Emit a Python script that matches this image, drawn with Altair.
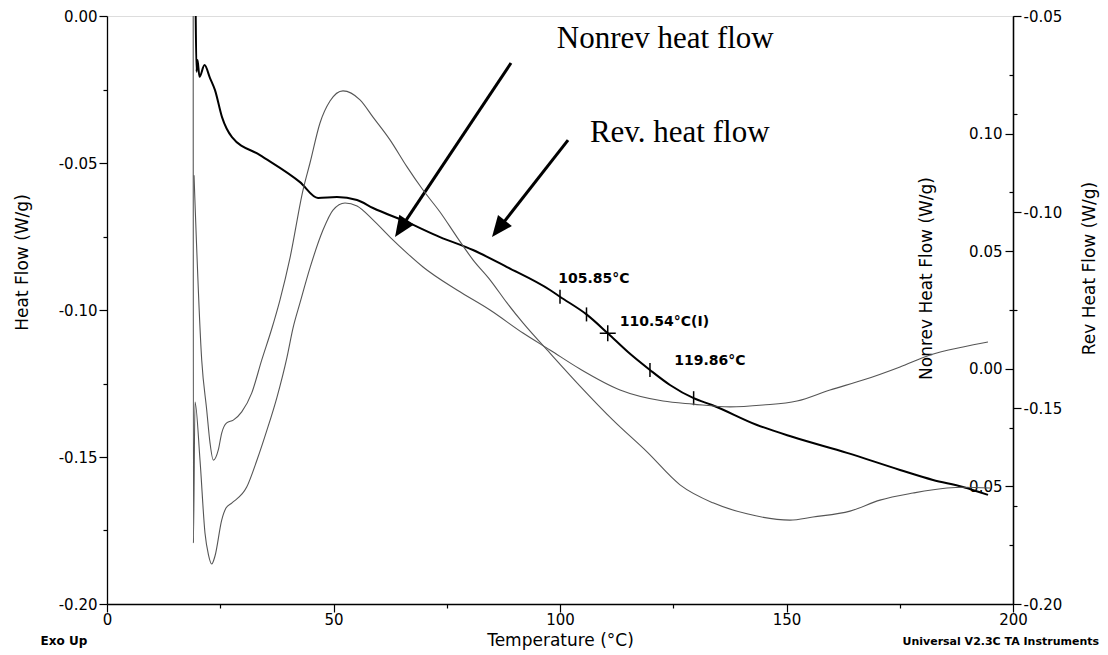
import altair as alt
import pandas as pd

# ---------------- data ----------------
# Total heat flow (left axis, W/g)
total_T = [19.58, 19.76, 19.98, 20.42, 21.52, 22.74, 23.84, 25.39, 27.59, 33.77,
           42.60, 46.58, 50.77, 55.19, 58.72, 66.23, 73.51, 80.79, 88.30, 97.79,
           100.00, 105.85, 110.54, 115.01, 119.86, 124.28, 129.50, 133.55, 143.49,
           151.43, 163.36, 175.06, 182.34, 188.96, 194.48]
total_hf = [0.0000, -0.0190, -0.0150, -0.0207, -0.0167, -0.0211, -0.0252, -0.0344, -0.0412, -0.0473,
            -0.0565, -0.0619, -0.0616, -0.0626, -0.0653, -0.0701, -0.0752, -0.0796, -0.0854, -0.0932,
            -0.0955, -0.1015, -0.1079, -0.1143, -0.1204, -0.1255, -0.1300, -0.1323, -0.1391,
            -0.1432, -0.1486, -0.1544, -0.1578, -0.1602, -0.1629]

# Nonreversing heat flow (inner right axis, W/g)
nonrev_T = [19.03, 19.07, 19.43, 20.53, 21.63, 22.41, 23.11, 23.84, 25.32, 26.27, 27.53,
            30.84, 33.11, 35.32, 37.53, 39.74, 41.06, 42.60, 44.81, 47.68, 49.89, 52.54,
            55.19, 58.72, 62.47, 66.23, 69.76, 77.26, 84.55, 91.83, 97.79, 104.42, 113.25,
            122.74, 129.36, 137.53, 144.81, 152.32, 159.60, 166.89, 175.06, 181.68, 188.96, 194.48]
nonrev_hf = [0.1500, -0.0741, -0.0141, -0.0388, -0.0698, -0.0792, -0.0830, -0.0796, -0.0643, -0.0592, -0.0571,
             -0.0503, -0.0388, -0.0260, -0.0120, 0.0050, 0.0173, 0.0280, 0.0429, 0.0590, 0.0675, 0.0705,
             0.0692, 0.0633, 0.0560, 0.0492, 0.0433, 0.0335, 0.0250, 0.0152, 0.0080, -0.0001, -0.0090,
             -0.0137, -0.0150, -0.0162, -0.0154, -0.0137, -0.0090, -0.0048, 0.0008, 0.0059, 0.0093, 0.0114]

# Reversing heat flow (outer right axis, W/g)
rev_T = [19.21, 20.91, 22.01, 22.74, 23.47, 24.57, 25.32, 26.42, 27.88, 29.74, 31.94, 34.15,
         36.42, 38.19, 40.40, 43.27, 44.81, 47.02, 49.23, 52.10, 55.85, 58.72, 62.47, 66.23,
         69.76, 73.51, 77.26, 80.79, 84.55, 88.30, 91.83, 97.79, 104.42, 111.70, 119.21,
         126.49, 133.77, 141.28, 150.77, 155.85, 164.02, 170.64, 177.92, 185.43, 188.96, 194.92]
rev_hf = [-0.0906, -0.1378, -0.1505, -0.1589, -0.1633, -0.1607, -0.1564, -0.1538, -0.1531, -0.1510, -0.1462, -0.1378,
          -0.1296, -0.1224, -0.1117, -0.0944, -0.0875, -0.0773, -0.0717, -0.0691, -0.0714, -0.0758, -0.0816, -0.0885,
          -0.0944, -0.1000, -0.1064, -0.1122, -0.1173, -0.1232, -0.1283, -0.1360, -0.1444, -0.1531, -0.1612,
          -0.1696, -0.1742, -0.1770, -0.1786, -0.1778, -0.1763, -0.1735, -0.1717, -0.1704, -0.1702, -0.1704]

# Glass transition analysis marks on the total curve
tick_T = [100.00, 105.85, 119.86, 129.50]
tick_hf = [-0.0955, -0.1015, -0.1204, -0.1300]
infl_T = [110.54]
infl_hf = [-0.1079]

lab_text = ["105.85°C", "110.54°C(I)", "119.86°C"]
lab_T = [99.6, 113.2, 125.2]
lab_hf = [-0.0908, -0.1054, -0.1187]

# Callouts
ann_text = ["Nonrev heat flow", "Rev. heat flow"]
ann_T = [99.3, 106.6]
ann_hf = [-0.0109, -0.0429]

arrow_T = [89.18, 101.77]
arrow_hf = [-0.0160, -0.0422]
arrow_T2 = [65.41, 87.04]
arrow_hf2 = [-0.0709, -0.0712]
head_T = [63.58, 84.99]
head_hf = [-0.0752, -0.0752]
head_angle = [213.7, 218.1]

foot_left = ["Exo Up"]
foot_left_T = [-9.5]
foot_right = ["Universal V2.3C TA Instruments"]
foot_right_T = [219.0]
foot_hf = [-0.2139]

# ---------------- tables ----------------
df_total = pd.DataFrame({"T": total_T, "hf": total_hf})
df_nonrev = pd.DataFrame({"T": nonrev_T, "nonrev": nonrev_hf})
df_rev = pd.DataFrame({"T": rev_T, "rev": rev_hf})
df_tick = pd.DataFrame({"T": tick_T, "hf": tick_hf})
df_infl = pd.DataFrame({"T": infl_T, "hf": infl_hf})
df_lab = pd.DataFrame({"T": lab_T, "hf": lab_hf, "txt": lab_text})
df_ann = pd.DataFrame({"T": ann_T, "hf": ann_hf, "txt": ann_text})
df_arrow = pd.DataFrame({"T": arrow_T, "hf": arrow_hf, "T2": arrow_T2, "hf2": arrow_hf2})
df_head = pd.DataFrame({"T": head_T, "hf": head_hf, "ang": head_angle})
df_fl = pd.DataFrame({"T": foot_left_T, "hf": foot_hf, "txt": foot_left})
df_fr = pd.DataFrame({"T": foot_right_T, "hf": foot_hf, "txt": foot_right})

FONT = "DejaVu Sans"

def major(step):
    return f"abs(datum.value*{step} - round(datum.value*{step})) < 1e-6"

def lab(step):
    return (f"{major(step)} ? (datum.value < -1e-9 ? '-' : '') + "
            f"format(abs(datum.value), '.2f') : ''")

common_axis = dict(grid=False, domainColor="black", tickColor="black", labelColor="black",
                   titleColor="black", labelFont=FONT, titleFont=FONT, titleFontWeight="normal",
                   labelOverlap=False, labelBound=False, domainWidth=1.3, tickWidth=1.2)

x_axis = alt.Axis(values=[0, 25, 50, 75, 100, 125, 150, 175, 200],
                  labelExpr="datum.value % 50 === 0 ? format(datum.value, 'd') : ''",
                  tickSize={"condition": {"test": "datum.value % 50 === 0", "value": 8}, "value": 4},
                  labelFontSize=15, labelPadding=0, labelFlush=False,
                  title="Temperature (°C)", titleFontSize=17, titlePadding=5, **common_axis)
X = alt.X("T:Q", scale=alt.Scale(domain=[0, 200], nice=False, zero=False), axis=x_axis)

left_vals = [round(-0.025 * i, 3) for i in range(9)]
left_axis = alt.Axis(values=left_vals, labelExpr=lab(20), orient="left",
                     tickSize={"condition": {"test": major(20), "value": 8}, "value": 4},
                     labelFontSize=15, labelPadding=2,
                     title="Heat Flow (W/g)", titleFontSize=17, titleBaseline="middle",
                     titleX=-85, titleY=246, titleAngle=270, **common_axis)
Y = alt.Y("hf:Q", scale=alt.Scale(domain=[-0.2, 0.0], nice=False, zero=False), axis=left_axis)

nonrev_vals = [0.125, 0.1, 0.075, 0.05, 0.025, 0.0, -0.025, -0.05, -0.075]
nonrev_axis = alt.Axis(values=nonrev_vals, labelExpr=lab(20), orient="left", offset=-906,
                       tickSize={"condition": {"test": major(20), "value": 8}, "value": 4},
                       labelFontSize=15, labelPadding=3,
                       title="Nonrev Heat Flow (W/g)", titleFontSize=17, titleBaseline="middle",
                       titleX=-87, titleY=262, titleAngle=270, **common_axis)

rev_vals = [-0.05, -0.075, -0.1, -0.125, -0.15, -0.175, -0.2]
rev_axis = alt.Axis(values=rev_vals, labelExpr=lab(20), orient="right",
                    tickSize={"condition": {"test": major(20), "value": 8}, "value": 4},
                    labelFontSize=15, labelPadding=2,
                    title="Rev Heat Flow (W/g)", titleFontSize=17, titleBaseline="middle",
                    titleX=76, titleY=252, titleAngle=270, **common_axis)

# ---------------- left-axis group ----------------
base_total = alt.Chart(df_total).mark_line(color="black", strokeWidth=2, interpolate="monotone",
                                           clip=True).encode(x=X, y=Y)
ticks = alt.Chart(df_tick).mark_point(shape="M0,-1L0,1", size=196, filled=False, color="black",
                                      strokeWidth=1.5, opacity=1).encode(x=X, y=Y)
infl = alt.Chart(df_infl).mark_point(shape="M-1,0L1,0M0,-1L0,1", size=256, filled=False,
                                     color="black", strokeWidth=1.5, opacity=1).encode(x=X, y=Y)
labels = alt.Chart(df_lab).mark_text(font=FONT, fontSize=14, fontWeight="bold", align="left",
                                     baseline="alphabetic", color="black").encode(x=X, y=Y, text="txt:N")
ann = alt.Chart(df_ann).mark_text(font="Liberation Serif", fontSize=31, align="left",
                                  baseline="alphabetic", color="black").encode(x=X, y=Y, text="txt:N")
arrows = alt.Chart(df_arrow).mark_rule(color="black", strokeWidth=3).encode(
    x=X, y=Y, x2="T2:Q", y2="hf2:Q")
heads = alt.Chart(df_head).mark_point(shape="M0,0L0.42,1L-0.42,1Z", size=1764, filled=True,
                                      color="black", opacity=1, strokeWidth=0).encode(
    x=X, y=Y, angle=alt.Angle("ang:Q", scale=None))
foot_l = alt.Chart(df_fl).mark_text(font=FONT, fontSize=12, fontWeight="bold", align="center",
                                    baseline="alphabetic", color="black").encode(x=X, y=Y, text="txt:N")
foot_r = alt.Chart(df_fr).mark_text(font=FONT, fontSize=11, fontWeight="bold", align="right",
                                    baseline="alphabetic", color="black").encode(x=X, y=Y, text="txt:N")

left_group = alt.layer(base_total, ticks, infl, labels, ann, arrows, heads, foot_l, foot_r)

nonrev_line = alt.Chart(df_nonrev).mark_line(color="#555555", strokeWidth=1.1, interpolate="monotone",
                                             clip=True).encode(
    x=X, y=alt.Y("nonrev:Q", scale=alt.Scale(domain=[-0.10, 0.15], nice=False, zero=False), axis=nonrev_axis))
rev_line = alt.Chart(df_rev).mark_line(color="#555555", strokeWidth=1.1, interpolate="monotone",
                                       clip=True).encode(
    x=X, y=alt.Y("rev:Q", scale=alt.Scale(domain=[-0.20, -0.05], nice=False, zero=False), axis=rev_axis))

chart = alt.layer(left_group, nonrev_line, rev_line).resolve_scale(y="independent").properties(
    width=906, height=588,
    autosize=alt.AutoSizeParams(type="none"),
    padding={"left": 99, "top": 8, "right": 87, "bottom": 50},
).configure_view(stroke="black", strokeWidth=1.3).configure(background="white")

chart.save("out.html", embed_options={"renderer": "svg", "actions": False})
